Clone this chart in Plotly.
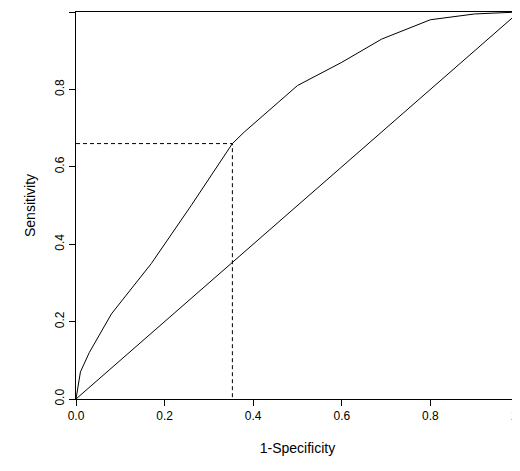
import plotly.graph_objects as go

fpr = [0, 0.01, 0.03, 0.08, 0.17, 0.26, 0.353, 0.38, 0.5, 0.6, 0.69, 0.8, 0.9, 1.0]
tpr = [0, 0.07, 0.12, 0.22, 0.35, 0.50, 0.66, 0.69, 0.81, 0.87, 0.93, 0.98, 0.995, 1.0]
cut_x = 0.353
cut_y = 0.66
ticks = [0, 0.2, 0.4, 0.6, 0.8, 1.0]

fig = go.Figure()
fig.add_trace(go.Scatter(x=fpr, y=tpr, mode="lines", line=dict(color="black", width=1)))
fig.add_trace(go.Scatter(x=[0, 1], y=[0, 1], mode="lines", line=dict(color="black", width=1)))
fig.add_trace(go.Scatter(x=[0, cut_x, cut_x], y=[cut_y, cut_y, 0], mode="lines",
                         line=dict(color="black", width=1, dash="4px,3px")))

ax = dict(range=[0, 1], tickvals=ticks, ticktext=["%.1f" % t for t in ticks],
          showgrid=False, zeroline=False,
          showline=True, mirror=True, linecolor="black", linewidth=1,
          ticks="outside", ticklen=6, tickcolor="black",
          tickfont=dict(size=12, color="black"))
fig.update_layout(
    width=520, height=471, showlegend=False,
    plot_bgcolor="white", paper_bgcolor="white",
    font=dict(family="Liberation Sans, Arial", size=12, color="black"),
    margin=dict(l=68, r=9, t=4, b=80, autoexpand=False),
    xaxis=dict(ax, title=dict(text="1-Specificity", standoff=20)),
    yaxis=dict(ax, tickangle=-90, title=dict(text="Sensitivity", standoff=14)),
)
fig.write_html("out.html")
